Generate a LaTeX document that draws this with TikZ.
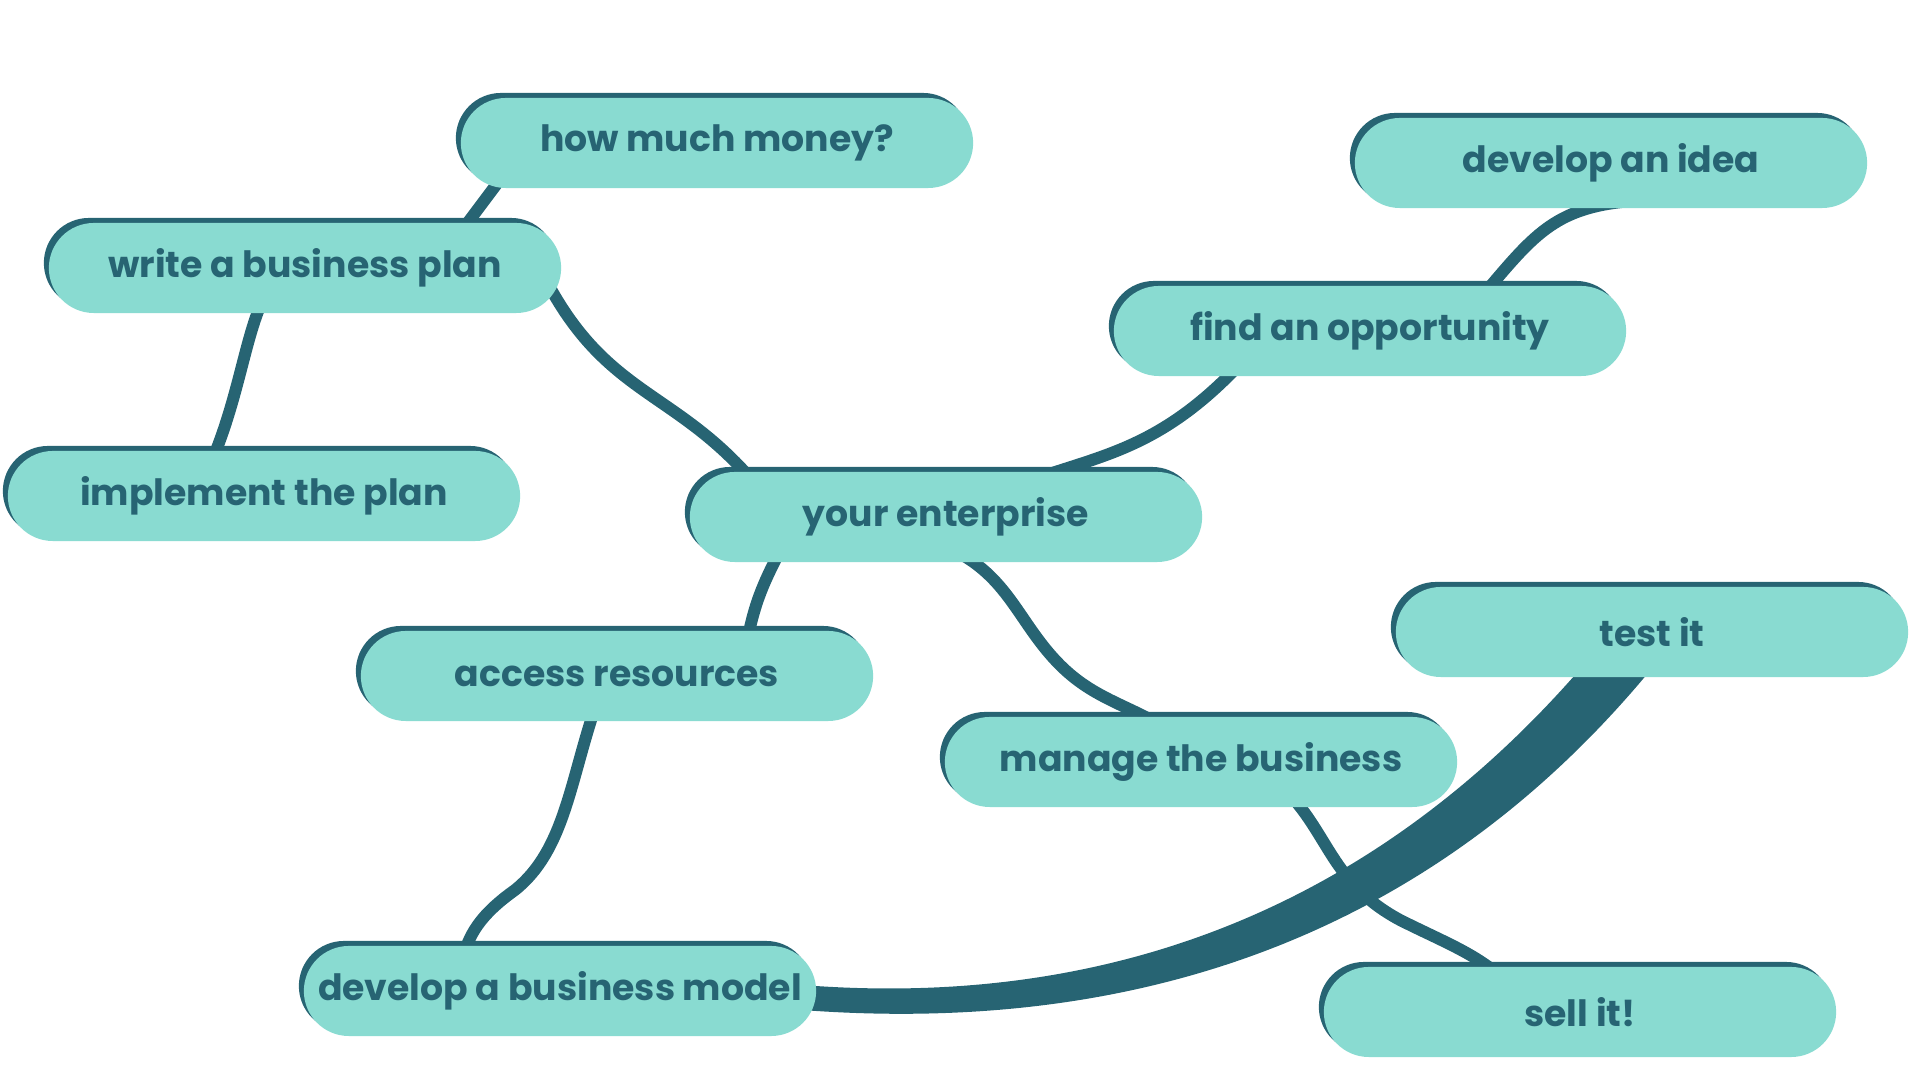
\documentclass[tikz,border=0pt]{standalone}
\usepackage{fontspec}
\setmainfont{Poppins}
\usetikzlibrary{shadows,backgrounds,calc}
\definecolor{mapdark}{HTML}{276473}
\definecolor{mapmint}{HTML}{89DBD1}

\begin{document}
\begin{tikzpicture}[x=0.01cm,y=-0.01cm,
    topic/.style={rectangle, rounded corners=0.45cm, fill=mapmint,
      minimum width=5.12cm, minimum height=0.9cm, inner xsep=1pt, text=mapdark,
      font=\bfseries\fontsize{10.3}{12}\selectfont,
      general shadow={fill=mapdark, shadow xshift=-0.05cm, shadow yshift=0.05cm}},
    link/.style={draw=mapdark, line width=3.4pt}]

        \useasboundingbox (0,0) rectangle (1920,1080);

        \node[topic] (money)       at (717,143)  {how much money?};
        \node[topic] (plan)        at (305,268)  {write a business plan};
        \node[topic] (implement)   at (264,496)  {implement the plan};
        \node[topic] (enterprise)  at (946,517)  {your enterprise};
        \node[topic] (idea)        at (1611,163) {develop an idea};
        \node[topic] (opportunity) at (1370,331) {find an opportunity};
        \node[topic] (resources)   at (617,676)  {access resources};
        \node[topic] (manage)      at (1201,762) {manage the business};
        \node[topic] (testit)      at (1652,632) {test it};
        \node[topic] (sell)        at (1580,1012) {sell it!};
        \node[topic] (model)       at (560,991)  {develop a business model};

        \begin{scope}[on background layer]
        \path[link]
        ($(money)+(-215,34)$) -- ($(plan)+(152,-31)$)
        ($(plan)+(242,14)$) .. controls (610,400) and (680,390) .. ($(enterprise)+(-184,-25)$)
        ($(plan)+(-38,24)$) .. controls (245,330) and (240,400) .. ($(implement)+(-57,-24)$)

        ($(enterprise)+(80,-35)$) .. controls (1100,455) and (1160,450) .. ($(opportunity)+(-128,31)$)
        ($(opportunity)+(107,-29)$) .. controls (1530,240) and (1550,210) .. ($(idea)+(11,39)$)

        ($(enterprise)+(-164,30)$) .. controls (765,580) and (755,600) .. ($(resources)+(130,-34)$)
        ($(resources)+(-20,26)$) .. controls (570,780) and (565,850) .. (515,890)
          .. controls (480,915) and (468,935) .. ($(model)+(-98,-29)$)

        ($(enterprise)+(11,35)$) .. controls (1010,580) and (1020,625) .. (1060,665)
          .. controls (1095,700) and (1130,705) .. ($(manage)+(-29,-30)$)
        ($(manage)+(91,35)$) .. controls (1330,840) and (1335,885) .. (1400,920)
          .. controls (1450,945) and (1480,955) .. ($(sell)+(-68,-25)$)
        ;

        % thick band from test it down to the business model
        \fill[mapdark] ($(testit)+(-70,35)$) .. controls (1380,900) and (1120,1010) .. ($(model)+(242,-6)$)
          -- ($(model)+(242,19)$) .. controls (1200,1040) and (1470,890) .. ($(testit)+(1,35)$) -- cycle;
        \end{scope}
      \end{tikzpicture}
\end{document}
